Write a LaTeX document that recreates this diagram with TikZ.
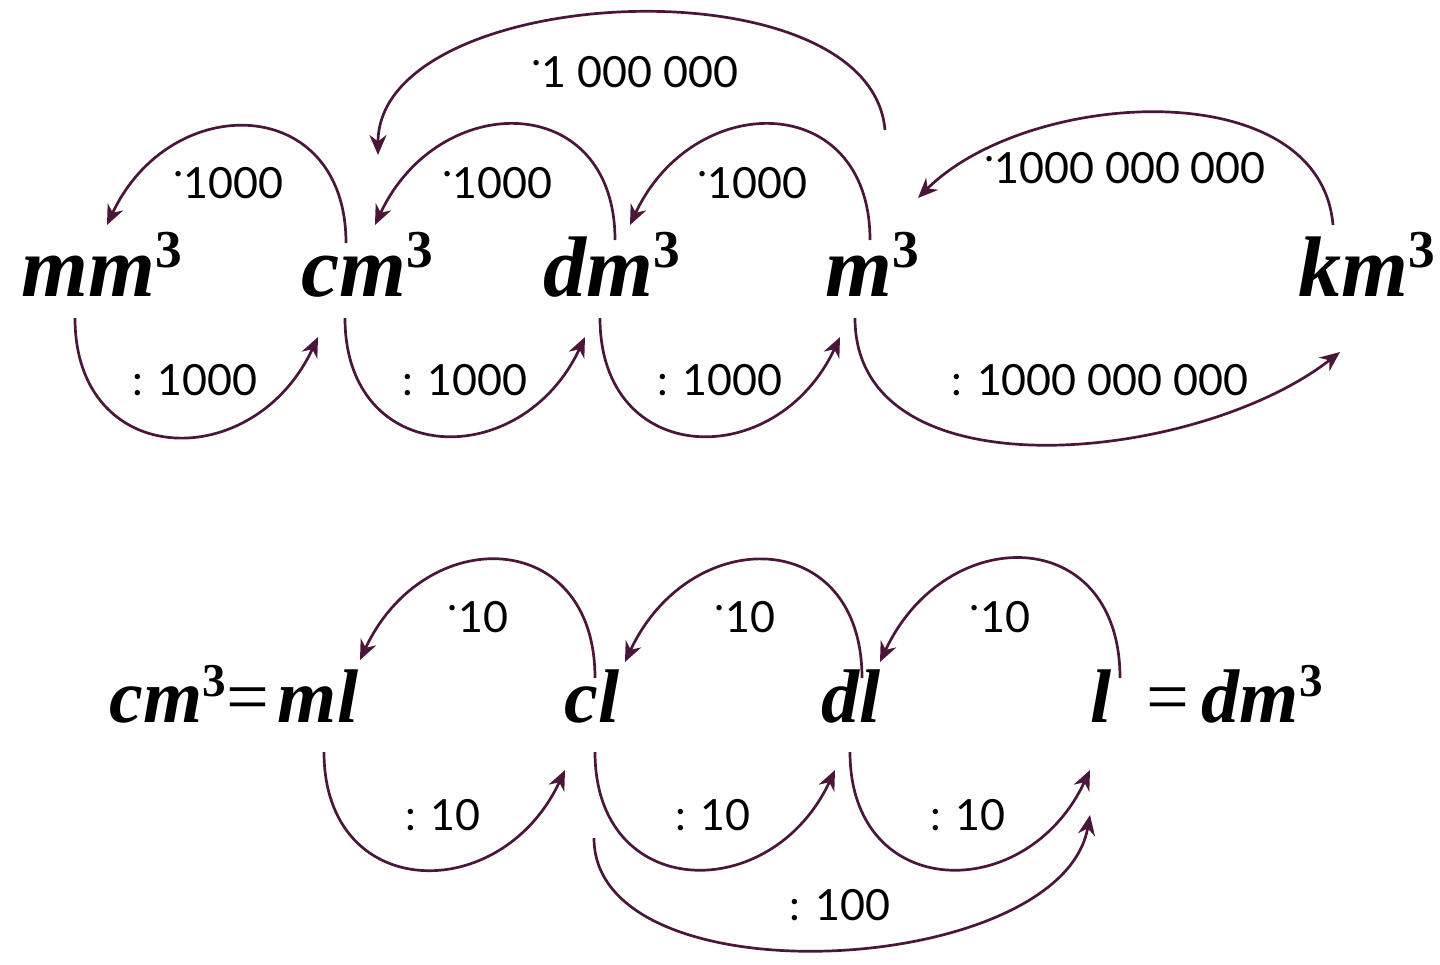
\documentclass[tikz,border=0pt]{standalone}
\usepackage{fontspec}
\setmainfont{Lato}
\newfontfamily\unitfont{Liberation Serif}
\usetikzlibrary{arrows.meta,calc}

\definecolor{arcpurple}{RGB}{74,22,58}

% unit with cube, unit of capacity, raised multiplication dot
\newcommand{\vol}[1]{{\bfseries\itshape #1}\raisebox{.33em}{\bfseries\fontsize{\the\dimexpr.62em\relax}{\the\dimexpr.62em\relax}\selectfont 3}}
\newcommand{\lit}[1]{{\bfseries\itshape #1}}
\newcommand{\mul}{\raisebox{.5em}{.}}

\tikzset{
  unit/.style={font=\unitfont\fontsize{43}{50}\selectfont, anchor=base, inner sep=0pt},
  capunit/.style={unit, font=\unitfont\fontsize{38}{44}\selectfont},
  fac/.style={font=\fontsize{21.5}{26}\selectfont, inner sep=0pt},
  conv/.style={draw=arcpurple, line width=1.35pt, -{Stealth[length=10pt,width=8.5pt]}},
}

\begin{document}
\begin{tikzpicture}[x=0.5pt, y=0.5pt]
  \useasboundingbox (0,0) rectangle (1440,-964);

  % volume units
  \node[unit] (mm) at (102,-296) {\vol{mm}};
  \node[unit] (cm) at (367,-296) {\vol{cm}};
  \node[unit] (dm) at (612,-296) {\vol{dm}};
  \node[unit] (m)  at (872,-296) {\vol{m}};
  \node[unit] (km) at (1367,-296) {\vol{km}};

  % multiply (to the smaller unit)
  \draw[conv] ($(cm.base)+(-21,53)$) to[out=90,in=65,looseness=1.6] ($(mm.base)+(5,71)$);
  \draw[conv] ($(dm.base)+(3,56)$) to[out=90,in=65,looseness=1.6] ($(cm.base)+(8,71)$);
  \draw[conv] ($(m.base)+(-2,56)$) to[out=90,in=65,looseness=1.6] ($(dm.base)+(18,71)$);
  \draw[conv] ($(m.base)+(13,166)$) to[out=95,in=90,looseness=0.87] ($(cm.base)+(11,141)$);
  \draw[conv] ($(km.base)+(-34,71)$) to[out=95,in=45,looseness=0.95] ($(m.base)+(46,98)$);

  % divide (to the larger unit)
  \draw[conv] ($(mm.base)+(-27,-22)$) to[out=-90,in=245,looseness=1.6] ($(cm.base)+(-49,-41)$);
  \draw[conv] ($(cm.base)+(-22,-22)$) to[out=-90,in=245,looseness=1.6] ($(dm.base)+(-27,-41)$);
  \draw[conv] ($(dm.base)+(-12,-22)$) to[out=-90,in=245,looseness=1.6] ($(m.base)+(-32,-41)$);
  \draw[conv] ($(m.base)+(-17,-22)$) to[out=-90,in=218,looseness=0.95] ($(km.base)+(-27,-56)$);

  \node[fac] (t1) at (228,-183) {\mul1000};
  \node[fac] (t2) at (497,-183) {\mul1000};
  \node[fac] (t3) at (752,-183) {\mul1000};
  \node[fac] (t4) at (635,-72) {\mul1 000 000};
  \node[fac] (t5) at (1125,-168) {\mul1000 000 000};
  \node[fac] (b1) at (195,-380) {: 1000};
  \node[fac] (b2) at (465,-380) {: 1000};
  \node[fac] (b3) at (720,-380) {: 1000};
  \node[fac] (b4) at (1100,-380) {: 1000 000 000};

  % capacity units
  \node[capunit] (ml) at (318,-722) {\lit{ml}};
  \node[capunit, anchor=base east] (cmeq) at ($(ml.base west)+(-8,0)$) {\vol{cm}=};
  \node[capunit] (cl) at (592,-722) {\lit{cl}};
  \node[capunit] (dl) at (851,-722) {\lit{dl}};
  \node[capunit] (l)  at (1101,-722) {\lit{l}};
  \node[capunit, anchor=base west] (eqdm) at ($(l.base east)+(34,0)$) {=\,\vol{dm}};

  \draw[conv] ($(cl.base)+(3,44)$) to[out=90,in=65,looseness=1.65] ($(ml.base)+(42,62)$);
  \draw[conv] ($(dl.base)+(11,44)$) to[out=90,in=65,looseness=1.65] ($(cl.base)+(33,60)$);
  \draw[conv] ($(l.base)+(19,44)$) to[out=90,in=65,looseness=1.65] ($(dl.base)+(29,60)$);

  \draw[conv] ($(ml.base)+(6,-30)$) to[out=-90,in=245,looseness=1.6] ($(cl.base)+(-27,-48)$);
  \draw[conv] ($(cl.base)+(3,-30)$) to[out=-90,in=245,looseness=1.6] ($(dl.base)+(-16,-48)$);
  \draw[conv] ($(dl.base)+(-1,-30)$) to[out=-90,in=245,looseness=1.6] ($(l.base)+(-11,-48)$);
  \draw[conv] ($(cl.base)+(2,-116)$) to[out=-90,in=260,looseness=0.85] ($(l.base)+(-11,-93)$);

  \node[fac] (s1) at (478,-617) {\mul10};
  \node[fac] (s2) at (745,-617) {\mul10};
  \node[fac] (s3) at (1000,-617) {\mul10};
  \node[fac] (d1) at (443,-815) {: 10};
  \node[fac] (d2) at (713,-815) {: 10};
  \node[fac] (d3) at (968,-815) {: 10};
  \node[fac] (d4) at (840,-905) {: 100};
\end{tikzpicture}
\end{document}
